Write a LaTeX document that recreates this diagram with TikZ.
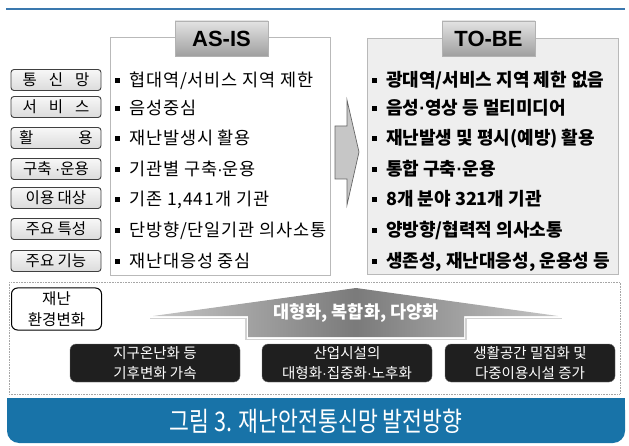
\documentclass[tikz,border=0pt]{standalone}
\usepackage{fontspec}
\setmainfont{Noto Sans CJK KR}
\newfontfamily\latinb{Liberation Sans}
\newfontfamily\spaced[LetterSpace=5]{Noto Sans CJK KR}
\usepackage{graphicx}
\definecolor{capblue}{HTML}{1873A8}
\definecolor{lineblue}{HTML}{3A78AE}
\newcommand\mybul{\rule[4pt]{5pt}{5pt}\hspace{9pt}}
\newcommand\md{{\latinb ·}}
\begin{document}
\begin{tikzpicture}[x=1pt,y=-1pt,
  lbl/.style={draw=black!75, line width=0.9pt, rounded corners=3pt, top color=gray!6, bottom color=gray!28,
    minimum width=90pt, minimum height=21pt, inner sep=0pt, text height=12.5pt, text depth=0.7pt,
    font=\fontsize{15.5}{16}\selectfont},
  item/.style={anchor=west, inner sep=0pt, text height=14.5pt, text depth=1pt, font=\spaced\fontsize{17.5}{18}\selectfont},
  itemb/.style={item, font=\fontsize{18}{18}\selectfont\bfseries},
  ttl/.style={draw=gray!60, top color=gray!22, bottom color=gray!75, minimum width=93pt, minimum height=35pt,
    inner sep=0pt, font=\latinb\bfseries\fontsize{22}{22}\selectfont},
  frame/.style={draw=gray!55, line width=1pt, inner sep=0pt},
  dark/.style={fill=black!88, draw=black!55, rounded corners=6pt, minimum width=170pt, minimum height=38pt,
    text=white, align=center, inner sep=0pt, font=\fontsize{14.5}{20}\selectfont},
  bigarrow/.style={left color=gray!45, right color=gray!45, middle color=black!52, draw=none},
  midarrow/.style={fill=gray!45, draw=black!60, line width=0.7pt},
]
\useasboundingbox (0,0) rectangle (629,446);

% top rule
\draw[lineblue, line width=1.3pt] (6,9) -- (625,9);

% frames
\node[frame, fill=white, minimum width=220pt, minimum height=238pt] (asisframe) at (220,157) {};
\node[frame, fill=gray!13, minimum width=251pt, minimum height=236pt] (tobeframe) at (492.5,157) {};

% titles
\node[ttl] (asis) at (221.5,38.5) {AS-IS};
\node[ttl] (tobe) at (488.5,38.5) {TO-BE};

% middle arrow
\draw[midarrow] (335,126) -- (347,126) -- (347,100) -- (359,152) -- (347,205) -- (347,179) -- (335,179) -- cycle;

% left labels
\node[lbl] (l1) at (56,80) {통\hspace{12pt}신\hspace{12pt}망};
\node[lbl] (l2) at (56,107) {서\hspace{12pt}비\hspace{12pt}스};
\node[lbl] (l3) at (56,138) {활\hspace{45pt}용};
\node[lbl] (l4) at (56,169) {구축 \md{}운용};
\node[lbl] (l5) at (56,198) {이용 대상};
\node[lbl] (l6) at (56,229) {주요 특성};
\node[lbl] (l7) at (56,261) {주요 기능};

% AS-IS items
\node[item] (a1) at (115,80) {\mybul 협대역/서비스 지역 제한};
\node[item] (a2) at (115,108) {\mybul 음성중심};
\node[item] (a3) at (115,138) {\mybul 재난발생시 활용};
\node[item] (a4) at (115,169) {\mybul 기관별 구축\md{}운용};
\node[item] (a5) at (115,199) {\mybul 기존 1,441개 기관};
\node[item] (a6) at (115,230) {\mybul 단방향/단일기관 의사소통};
\node[item] (a7) at (115,261) {\mybul 재난대응성 중심};

% TO-BE items
\node[itemb] (b1) at (372,80) {\mybul 광대역/서비스 지역 제한 없음};
\node[itemb] (b2) at (372,108) {\mybul 음성\md{}영상 등 멀티미디어};
\node[itemb] (b3) at (372,138) {\mybul 재난발생 및 평시(예방) 활용};
\node[itemb] (b4) at (372,169) {\mybul 통합 구축\md{}운용};
\node[itemb] (b5) at (372,199) {\mybul 8개 분야 321개 기관};
\node[itemb] (b6) at (372,230) {\mybul 양방향/협력적 의사소통};
\node[itemb] (b7) at (372,261) {\mybul 생존성, 재난대응성, 운용성 등};

% bottom section
\draw[gray!70, line width=0.6pt, dash pattern=on 0.8pt off 0.8pt] (9,282) rectangle (620,394);
\node[draw=black, line width=1pt, rounded corners=6pt, fill=white, minimum width=90pt, minimum height=42pt,
  align=center, inner sep=0pt, font=\fontsize{15.5}{21}\selectfont] (env) at (56.5,309) {재난\\환경변화};

\draw[gray!35, line width=1.2pt] (150,318.5) -- (246,318.5) -- (246,339.5) -- (466,339.5) -- (466,318.5) -- (562,318.5);
\path[bigarrow] (153,316) -- (356,288) -- (558,316) -- (464,316) -- (464,337) -- (248,337) -- (248,316) -- cycle;
\node[text=white, font=\fontsize{17.5}{18}\selectfont\bfseries] (trend) at (356,313) {대형화, 복합화, 다양화};

\node[dark] (d1) at (155,363) {지구온난화 등\\기후변화 가속};
\node[dark] (d2) at (347,363) {산업시설의\\대형화\md{}집중화\md{}노후화};
\node[dark] (d3) at (530,363) {생활공간 밀집화 및\\다중이용시설 증가};

% caption bar
\fill[capblue, rounded corners=12pt] (7,398) rectangle (625,443);
\fill[capblue] (7,398) rectangle (625,420);
\node[text=white, font=\fontsize{27}{27}\selectfont] (cap) at (316,421) {\scalebox{0.8}[1]{그림 3. 재난안전통신망 발전방향}};
\end{tikzpicture}
\end{document}
